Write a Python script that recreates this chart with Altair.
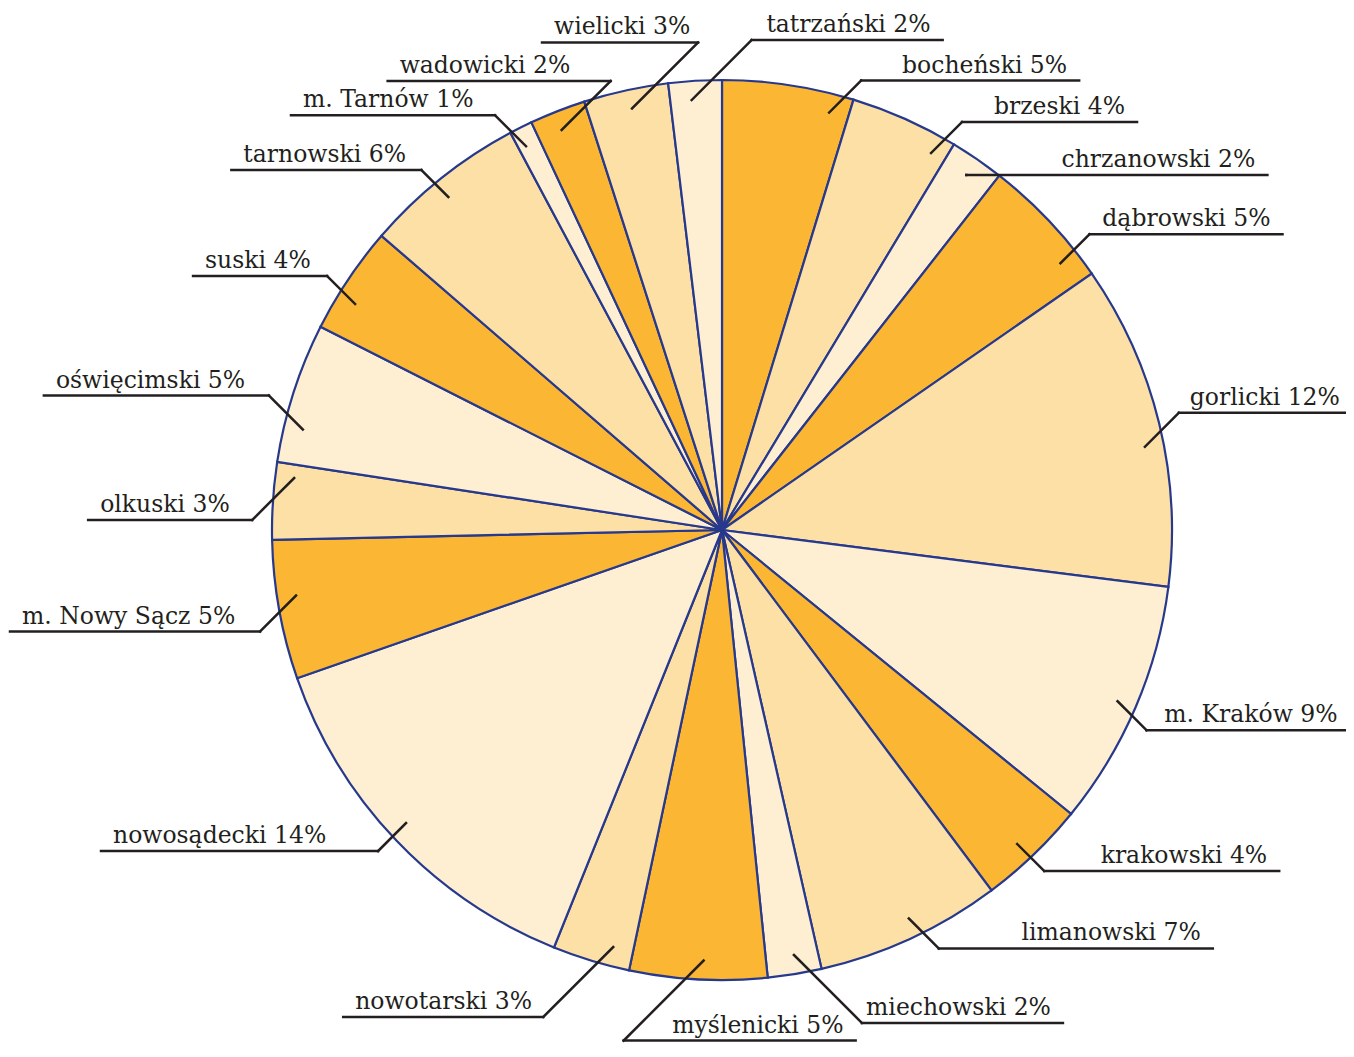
import altair as alt
import pandas as pd

# ---------------- data ----------------
DISTRICTS = ["bocheński", "brzeski", "chrzanowski", "dąbrowski", "gorlicki",
             "m. Kraków", "krakowski", "limanowski", "miechowski", "myślenicki",
             "nowotarski", "nowosądecki", "m. Nowy Sącz", "olkuski", "oświęcimski",
             "suski", "tarnowski", "m. Tarnów", "wadowicki", "wielicki", "tatrzański"]
SHARES = [4.72, 3.90, 1.95, 4.78, 11.67,
          8.85, 3.91, 6.67, 1.93, 4.93,
          2.78, 13.57, 4.99, 2.77, 5.04,
          3.88, 5.87, 0.83, 2.01, 3.04, 1.91]
TONES = ["dark", "mid", "light"] * 7

# ---------------- label layout (annotation geometry) ----------------
ANGLE_NUDGE = [5.9, 5.0, 0.0, 5.1, 2.6, 0.2, 0.6, -0.9, -0.3, -0.6,
               -2.3, 0.8, 1.5, 3.2, -4.3, -2.2, -0.8, -0.5, -0.4, 0.3, -0.6]
LEADER_LEN = [32, 31, 0, 29, 34, 29, 27, 30, 68, 80,
              70, 28, 36, 42, 34, 28, 27, 31, 49, 66, 60]
LEADER_DX = [1, 1, 1, 1, 1, 1, 1, 1, 1, -1,
             -1, -1, -1, -1, -1, -1, -1, -1, 1, 1, 1]
LEADER_DY = [-1, -1, -1, -1, -1, 1, 1, 1, 1, 1,
             1, 1, 1, 1, -1, -1, -1, -1, -1, -1, -1]
LINE_SIDE = [1, 1, 1, 1, 1, 1, 1, 1, 1, 1,
             -1, -1, -1, -1, -1, -1, -1, -1, -1, -1, 1]
LINE_LEN = [218, 175, 301, 193, 173, 203, 235, 274, 201, 232,
            200, 277, 250, 164, 225, 134, 190, 204, 223, 156, 191]

W, H = 1338, 1041
CX, CY, R, R0 = 714, 522, 450, 431
TEXT_PAD = 12

COLORS = ["#FBB733", "#FDE0A5", "#FEEFD2"]
NAVY = "#27398C"
INK = "#231F20"
FONT = "DejaVu Serif"
FONT_SIZE = 23.5

df = pd.DataFrame({
    "idx": list(range(len(DISTRICTS))),
    "name": DISTRICTS,
    "share": SHARES,
    "tone": TONES,
    "nudge": ANGLE_NUDGE,
    "llen": LEADER_LEN,
    "ldx": LEADER_DX,
    "ldy": LEADER_DY,
    "side": LINE_SIDE,
    "ulen": LINE_LEN,
})

base = alt.Chart(df)

pie = base.mark_arc(radius=R, stroke=NAVY, strokeWidth=2.2).encode(
    theta=alt.Theta("share:Q", stack=True),
    order=alt.Order("idx:Q", sort="ascending"),
    color=alt.Color("tone:N",
                    scale=alt.Scale(domain=["dark", "mid", "light"], range=COLORS),
                    legend=None),
    x=alt.value(CX),
    y=alt.value(CY),
)

geo = base.transform_window(
    cum="sum(share)", frame=[None, 0], sort=[alt.SortField("idx", order="ascending")]
).transform_joinaggregate(
    total="sum(share)"
).transform_calculate(
    mid="((datum.cum - datum.share / 2) / datum.total * 360 + datum.nudge) * PI / 180"
).transform_calculate(
    sx=f"{CX} + {R0} * sin(datum.mid)",
    sy=f"{CY} - {R0} * cos(datum.mid)",
).transform_calculate(
    ex="datum.sx + datum.ldx * datum.llen",
    ey="datum.sy + datum.ldy * datum.llen",
).transform_calculate(
    ux="datum.ex + datum.side * datum.ulen",
    ty="datum.ey - 8",
    label="datum.name + ' ' + round(datum.share) + '%'",
).transform_calculate(
    tx=f"datum.ux - datum.side * {TEXT_PAD}",
)

xs = alt.Scale(domain=[0, W], nice=False, zero=False)
ys = alt.Scale(domain=[0, H], nice=False, zero=False, reverse=True)

leaders = geo.mark_rule(color=INK, strokeWidth=2.5, strokeCap="square").encode(
    x=alt.X("sx:Q", scale=xs, axis=None),
    x2="ex:Q",
    y=alt.Y("sy:Q", scale=ys, axis=None),
    y2="ey:Q",
)

underlines = geo.mark_rule(color=INK, strokeWidth=2.5, strokeCap="square").encode(
    x=alt.X("ex:Q", scale=xs, axis=None),
    x2="ux:Q",
    y=alt.Y("ey:Q", scale=ys, axis=None),
)

text_right = geo.transform_filter("datum.side > 0").mark_text(
    align="right", baseline="alphabetic", font=FONT, fontSize=FONT_SIZE, color=INK
).encode(
    x=alt.X("tx:Q", scale=xs, axis=None),
    y=alt.Y("ty:Q", scale=ys, axis=None),
    text="label:N",
)

text_left = geo.transform_filter("datum.side < 0").mark_text(
    align="left", baseline="alphabetic", font=FONT, fontSize=FONT_SIZE, color=INK
).encode(
    x=alt.X("tx:Q", scale=xs, axis=None),
    y=alt.Y("ty:Q", scale=ys, axis=None),
    text="label:N",
)

chart = alt.layer(pie, leaders, underlines, text_right, text_left).properties(
    width=W, height=H, padding=0, autosize="none"
).configure_view(stroke=None)

chart.save("out.html", embed_options={"renderer": "svg", "actions": False})
